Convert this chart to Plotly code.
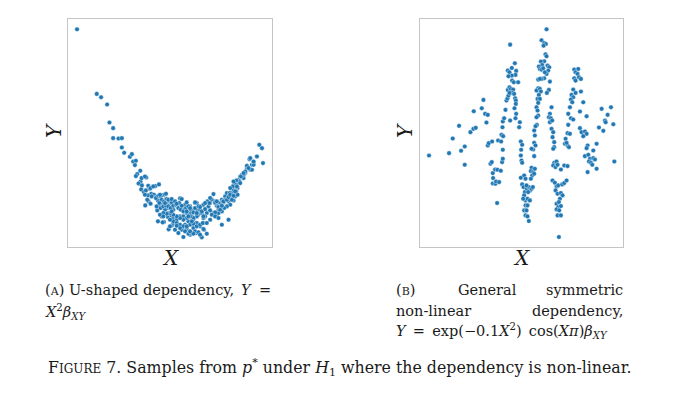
import plotly.graph_objects as go

# (A) U-shaped dependency: samples
xa = [-3.38, -2.79, -2.66, -2.48, -2.41, -2.30, -2.30, -2.14, -2.04, -2.04,
      -1.97, -1.80, -1.74, -1.70, -1.62, -1.65, -1.49, -1.58, -1.62, -1.31,
      -1.48, -1.54, -1.44, -1.46, -1.38, -1.32, -1.21, -1.04, -0.93, -1.16,
      -1.26, -1.34, -1.24, -1.18, -1.08, -1.01, -0.96, -0.86, -0.78, -0.71,
      -0.66, -0.81, -0.91, -0.98, -0.76, -0.68, -0.61, -0.56, -0.48, -0.41,
      -0.96, -0.78, -0.64, -0.81, -0.71, -0.66, -0.56, -0.51, -0.46, -0.54,
      -0.30, -0.25, -0.20, -0.15, -0.10, -0.05, 0.00, 0.05, 0.10, 0.15,
      0.20, 0.25, 0.30, 0.40, 0.45, 0.50, 0.55, 0.60, 0.65, 0.70,
      0.75, 0.80, 0.85, 0.90, 0.95, 1.00, 1.05, 1.10, 1.15, 1.20,
      1.25, 1.30, 1.35, 1.40, 1.45, 1.50, 1.55, 1.60, 1.65, 1.70,
      1.80, 1.85, 1.78, 1.90, 2.00, 2.07, 2.15, 2.18, 1.35, 1.15,
      0.95, 0.50, 0.35, -0.20, 0.00, 0.20, -0.30, -0.10, 0.10, 0.20,
      0.30, 0.40, 0.45, 0.60, 0.70, 0.80, -0.30, -0.40, -0.50, -0.60,
      -0.45, -0.35, -0.25, -0.15, -0.05, -0.50, -0.75, -0.85, -0.65, -0.20,
      -0.10, 0.00, 0.10, 0.30, 0.40,
      1.80, 1.90, 1.70, 1.85, 1.65, 1.60, 1.52, 1.48, 1.38, 1.33,
      1.28, 1.20, 1.42, 1.38, 1.18, 1.35, 1.42, 1.25, 1.15, 1.05,
      0.98, 1.30, 1.20, 1.10, 1.02, 0.90, 0.80, 0.75, 0.60, 0.52,
      0.45, 0.95, 0.85, 0.75, 0.65,
      -1.45, -1.35, -1.25, -1.18, -1.10, -1.35, -1.28, -1.15, -1.02, -0.95,
      -0.88, -0.72, -0.85, -0.78, -0.70, -0.62, -0.55, -0.92, -1.00, -0.88,
      -0.80, -0.72, -0.65, -0.58, -0.50, -0.42, -0.32, -0.25, -0.35, -0.28,
      -0.20, -0.12, -0.05, 0.02, 0.10, 0.15, 0.20, 0.25, 0.30, 0.35,
      0.40, 0.20, 0.10, 0.00, -0.10, -0.20, -0.30, -0.40, -0.50, -0.60,
      -0.70, -0.80, -0.90, -0.82, -0.50, -0.40, -0.30, -0.20, -0.10, 0.00,
      0.10, 0.20, 0.30, 0.38, 0.42, -0.15, -0.05, 0.05, 0.15, 0.25,
      -0.90, -0.75, -0.65, -0.55, -0.45, -0.40, -0.25, -0.10, 0.00, 0.15,
      0.20, 0.30, 0.35, 0.45, 0.60, 0.58, 0.75, 0.80, 0.85, 0.90,
      0.95, 1.00, 1.10, 1.15, 1.20, 1.25, 1.30, 1.35, 1.40, 1.30,
      1.50, 1.60, 1.75, 1.90, 0.50, 0.30, 0.10, 0.00, -0.10, -0.30,
      -0.40, -0.60, 0.40, 0.75, 0.85, 0.05, -0.05, -0.80, -0.55]
ya = [11.84, 7.96, 7.76, 7.32, 6.24, 5.90, 5.30, 5.28, 5.30, 4.74,
      4.42, 4.18, 4.34, 3.90, 3.94, 3.68, 3.34, 3.14, 3.02, 2.94,
      2.70, 2.58, 2.46, 2.22, 2.06, 2.16, 2.26, 2.42, 2.52, 1.96,
      1.86, 1.26, 1.50, 1.36, 1.90, 1.76, 1.56, 1.86, 1.90, 1.66,
      1.36, 1.36, 1.16, 0.96, 1.16, 1.10, 1.26, 1.36, 1.42, 1.26,
      0.30, 0.26, -0.18, 0.66, 0.76, 0.56, 0.66, 0.46, 0.26, 0.06,
      1.68, 1.20, 1.00, 1.30, 1.44, 1.10, 0.80, 0.60, 0.40, 1.40,
      1.00, 0.70, 1.20, 1.30, 1.00, 0.80, 1.20, 1.40, 1.60, 1.94,
      1.50, 1.30, 1.00, 1.40, 1.60, 1.44, 1.80, 2.00, 1.50, 1.80,
      2.04, 2.20, 2.40, 2.60, 2.80, 3.00, 3.10, 2.90, 3.20, 3.50,
      3.40, 3.70, 4.04, 3.80, 4.20, 4.90, 4.70, 3.80, 1.90, 0.40,
      0.10, -0.44, -0.66, -0.64, -0.50, -0.40, 0.00, -0.20, -0.10, 0.20,
      0.00, 0.20, 0.60, 0.40, 0.80, 0.70, 0.60, 0.40, 0.20, 0.00,
      -0.20, -0.40, -0.20, 0.10, 0.30, 1.00, 1.00, 0.60, 0.80, 0.60,
      0.80, 1.20, 1.00, 0.80, 0.50,
      4.10, 3.70, 3.64, 3.40, 3.30, 3.10, 3.00, 2.70, 2.76, 2.56,
      2.40, 2.30, 2.30, 2.10, 2.00, 1.80, 1.90, 1.70, 1.64, 1.60,
      1.50, 1.56, 1.30, 1.20, 1.10, 1.20, 1.24, 1.40, 1.70, 1.50,
      1.40, 0.90, 0.80, 0.84, 0.70,
      2.90, 3.00, 2.44, 2.30, 2.40, 1.90, 1.60, 1.80, 1.70, 1.84,
      1.80, 1.96, 1.60, 1.50, 1.64, 1.56, 1.44, 1.40, 1.20, 1.10,
      1.20, 1.24, 1.20, 1.10, 1.24, 1.30, 1.40, 1.64, 1.10, 1.00,
      0.90, 1.10, 1.20, 1.00, 0.84, 1.10, 1.40, 1.20, 1.00, 0.80,
      0.60, 0.60, 0.50, 0.60, 0.50, 0.40, 0.50, 0.60, 0.70, 0.80,
      0.76, 0.80, 0.70, 0.24, 0.30, 0.20, 0.10, 0.00, -0.10, 0.10,
      0.16, 0.00, 0.10, 0.20, -0.20, -0.30, -0.44, -0.40, -0.30, -0.36,
      1.90, 1.40, 1.60, 1.64, 1.50, 1.36, 1.24, 0.90, 1.10, 1.44,
      0.80, 1.16, 0.90, 1.04, 0.96, 1.40, 1.44, 1.50, 1.16, 1.00,
      1.24, 1.50, 1.60, 1.76, 1.90, 1.60, 1.84, 2.10, 2.40, 2.70,
      2.60, 3.20, 3.50, 3.90, 0.20, -0.50, -0.44, -0.30, 0.00, -0.10,
      0.04, 0.40, -0.16, 0.60, 0.50, 0.30, 0.60, 0.60, 0.90]

# (B) general symmetric non-linear dependency
xb = [-3.45, -2.85, -2.74, -2.55, -2.49, -2.38, -2.38, -2.21, -2.12, -2.05,
      -2.11, -1.87, -1.82, -1.77, -1.69, -1.73, -1.69, -1.66, -1.56, -1.61,
      -1.57, -1.54, -1.47, -1.40, -1.30, -1.53, -1.54, -1.46, -1.44, -1.35,
      -1.41, -1.38, -1.29, -1.24, -1.26, -1.24, -1.28, -1.23, -1.25, -1.24,
      -1.20, -1.16, -1.13, -1.10, -1.07, -1.09, -1.04, -1.00, -0.93, -0.96,
      -1.04, -0.90, -1.02, -1.09, -1.04, -0.97, -0.88, -0.84, -0.86, -0.97,
      -1.07, -0.96, -0.91, -0.87, -0.85, -0.85, -0.89, -0.84, -0.86, -1.02,
      -0.78, -0.73, -0.75, -0.70, -0.66, -0.69, -0.70, -0.68, -0.66, -0.70,
      -0.60, -0.56, -0.66, -0.62, -0.58, -0.52, -0.46, -0.42, -0.38, -0.34,
      -0.60, -0.56, -0.50, -0.43, -0.56, -0.60, -0.53, -0.56, -0.50, -0.46,
      -0.38, -0.40, -0.33, -0.36, -0.30, -0.28, -0.40, -0.53, -0.48, -0.63,
      -0.50,
      0.07, -0.08, 0.00, 0.05, -0.02, 0.04, 0.07, 0.00, -0.10, -0.06,
      -0.16, -0.13, -0.08, -0.03, 0.10, 0.15, 0.12, 0.07, 0.02, 0.00,
      -0.08, -0.18, -0.13, 0.17, 0.14, 0.08, -0.18, -0.23, -0.13, -0.10,
      -0.16, -0.20, -0.13, -0.18, -0.23, -0.20, -0.18, -0.23, -0.22, -0.26,
      -0.30, -0.28, -0.30, -0.26, -0.33, -0.38, -0.30,
      0.22, 0.17, 0.14, 0.20, 0.17, 0.24, 0.22, 0.27, 0.25, 0.30,
      0.30, 0.27,
      0.30, 0.37, 0.27, 0.34, 0.40, 0.60, 0.70, 0.50, 0.25, 0.32,
      0.37, 0.42, 0.54, 0.60, 0.67, 0.34, 0.40, 0.50, 0.55, 0.47,
      0.37, 0.44, 0.42, 0.50, 0.37, 0.45, 0.40, 0.50, 0.44,
      0.90, 1.02, 0.94, 1.00, 1.04, 0.90, 0.94, 1.10, 0.87, 0.82,
      0.94, 1.10, 0.87, 0.80, 0.84, 1.17, 0.77, 1.07, 0.72, 0.80,
      0.87, 1.27, 0.72, 1.07, 1.12, 1.22, 1.27, 1.17, 0.70, 0.77,
      0.64, 0.62, 0.70, 0.74, 0.67,
      1.30, 1.27, 1.57, 1.47, 1.22, 1.32, 1.37, 1.47, 1.52, 1.34,
      1.40, 1.44, 1.57, 1.30,
      1.72, 2.00, 1.90, 1.82, 1.84, 2.07, 1.64, 1.77, 2.10]
yb = [-0.02, 0.05, 0.49, 0.87, 0.12, 0.25, -0.30, 0.68, 0.78, 0.81,
      1.31, 1.40, 1.65, 1.23, 1.20, 0.97, 0.28, 0.35, 0.40, -0.27,
      -0.22, -0.55, -0.44, -0.45, -0.48, -0.70, -0.86, -0.87, -0.80, -0.82,
      -1.45, 0.43, 0.40, 0.15, -0.22, -0.12, 0.60, 0.56, 0.83, 1.00,
      1.10, 1.35, 1.63, 1.70, 1.78, 1.95, 2.03, 1.98, 1.96, 1.86,
      1.86, 1.83, 3.31, 2.53, 2.48, 2.61, 2.75, 2.52, 2.40, 2.38,
      2.36, 2.23, 2.18, 1.70, 1.63, 1.53, 1.40, 1.23, 1.10, 1.03,
      2.18, 0.98, 0.83, 0.40, 0.30, 0.15, -0.02, -0.17, -0.24, -0.69,
      -0.62, -0.72, -0.89, -0.97, -1.12, -1.02, -0.97, -1.07, -1.02, -0.97,
      -1.22, -1.37, -1.32, -1.37, -1.52, -1.67, -1.67, -1.82, -1.85, -1.99,
      -0.39, -0.49, -0.52, -0.62, -0.57, -0.42, -0.72, -0.92, -1.12, -1.32,
      -1.52,
      3.77, 3.44, 3.36, 3.33, 3.28, 3.02, 2.96, 2.81, 2.80, 2.70,
      2.65, 2.58, 2.56, 2.60, 2.68, 2.63, 2.53, 2.43, 2.48, 2.30,
      2.28, 2.26, 2.28, 2.20, 1.95, 1.86, 2.00, 1.93, 1.98, 1.90,
      1.80, 1.68, 1.68, 1.56, 1.43, 1.33, 1.18, 1.13, 0.90, 0.86,
      0.73, 0.58, 0.36, 0.28, 0.16, 0.18, -0.04,
      1.43, 1.23, 1.13, 1.10, 0.98, 1.03, 0.78, 0.68, 0.53, 0.38,
      0.23, 0.18,
      -0.24, -0.20, -0.32, -0.37, -0.30, -0.32, -0.34, -0.44, -0.77, -0.84,
      -0.95, -0.92, -0.89, -0.85, -0.77, -1.07, -1.17, -1.15, -1.22, -1.32,
      -1.47, -1.42, -1.57, -1.54, -1.64, -1.67, -1.82, -1.82, -2.47,
      2.56, 2.58, 2.48, 2.43, 2.33, 2.30, 2.23, 2.28, 1.96, 1.80,
      1.86, 1.90, 1.73, 1.66, 1.58, 1.58, 1.43, 1.30, 1.23, 1.10,
      1.06, 1.16, 0.90, 0.80, 0.68, 0.70, 0.63, 0.56, 0.65, 0.63,
      0.48, 0.33, 0.28, 0.23, 0.36,
      0.28, 0.20, 0.33, 0.13, -0.04, 0.00, -0.12, -0.10, -0.14, -0.20,
      -0.24, -0.30, -0.42, -0.52,
      1.38, 1.43, 1.20, 1.03, 0.98, 0.92, 0.82, 0.72, -0.20]

# the page body has an 8px margin, so the figure is drawn 8px in
PAD = 8
W, H = 680 - PAD, 402 - 2 * PAD
SERIF = "DejaVu Serif"
INK = "#1a1a1a"
BLUE = "#1f77b4"
FRAME = "#c4c4c4"


def px(x):
    return (x - PAD) / W


def py(y):
    return 1 - (y - PAD) / H


marker = dict(color=BLUE, size=4.6, line=dict(color="white", width=0.4))

fig = go.Figure()
fig.add_trace(go.Scatter(x=xa, y=ya, mode="markers", marker=marker,
                         xaxis="x", yaxis="y", showlegend=False))
fig.add_trace(go.Scatter(x=xb, y=yb, mode="markers", marker=marker,
                         xaxis="x2", yaxis="y2", showlegend=False))

axis_style = dict(showticklabels=False, showgrid=False, zeroline=False,
                  ticks="", showline=True, mirror=True,
                  linecolor=FRAME, linewidth=1.3)

fig.update_layout(
    width=W, height=H,
    margin=dict(l=0, r=0, t=0, b=0),
    paper_bgcolor="white", plot_bgcolor="white",
    font=dict(family=SERIF, size=14, color=INK),
    xaxis=dict(domain=[px(68), px(272)], range=[-3.65, 2.45], **axis_style),
    yaxis=dict(domain=[py(247), py(19)], range=[-1.24, 12.46], **axis_style),
    xaxis2=dict(domain=[px(420), px(623)], range=[-3.72, 2.36], anchor="y2",
                **axis_style),
    yaxis2=dict(domain=[py(247), py(19)], range=[-2.77, 4.08], anchor="x2",
                **axis_style),
)


def note(text, x, y, size=14.5, xanchor="left", angle=0):
    fig.add_annotation(text=text, x=px(x), y=py(y), xref="paper", yref="paper",
                       xanchor=xanchor, yanchor="middle", showarrow=False,
                       textangle=angle, borderpad=0,
                       font=dict(family=SERIF, size=size, color=INK))


# axis labels
note("<i>X</i>", 170, 258, size=20, xanchor="center")
note("<i>Y</i>", 54, 131, size=20, xanchor="center", angle=-90)
note("<i>X</i>", 521, 258, size=20, xanchor="center")
note("<i>Y</i>", 405, 131, size=20, xanchor="center", angle=-90)

# sub-captions (justified lines are laid out word group by word group)
sc = "<span style='font-size:11px'>%s</span>"
note("(" + sc % "A" + ") U-shaped dependency,", 44, 290)
note("<i>Y</i>", 246, 290, xanchor="center")
note("=", 272, 290, xanchor="right")
note("<i>X</i><sup>2</sup><i>β</i><sub><i>XY</i></sub>", 44, 312)

note("(" + sc % "B" + ")", 395, 290)
note("General", 487, 290, xanchor="center")
note("symmetric", 624, 290, xanchor="right")
note("non-linear", 395, 311)
note("dependency,", 624, 311, xanchor="right")
note("<i>Y</i>\u2002=\u2002exp(−0.1<i>X</i><sup>2</sup>)\u2002cos(<i>Xπ</i>)"
     "<i>β</i><sub><i>XY</i></sub>", 395, 331)

# figure caption
note("F" + "<span style='font-size:12px'>IGURE</span> 7. Samples from "
     "<i>p</i><sup>*</sup> under <i>H</i><sub>1</sub> where the dependency "
     "is non-linear.", 47, 367, size=15.8)

fig.write_html("out.html")
